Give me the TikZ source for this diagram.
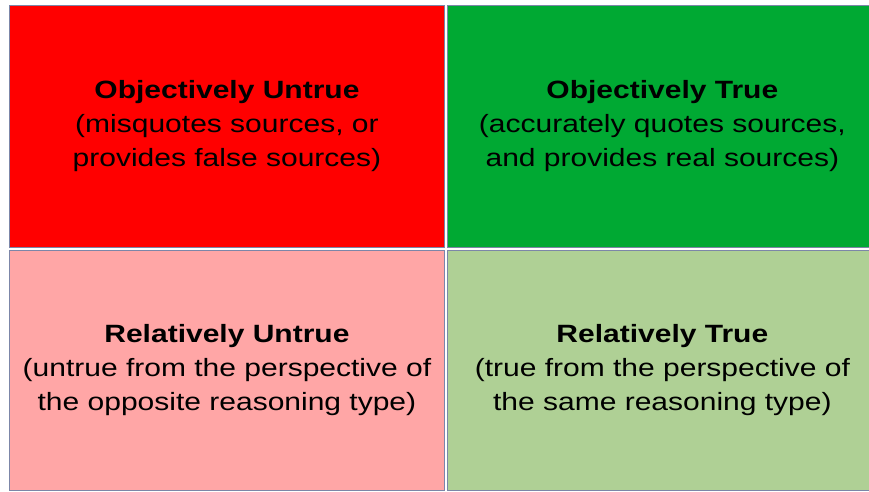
\documentclass[tikz,border=0pt]{standalone}
\usepackage{fontspec}
\setmainfont[FakeStretch=1.2]{Liberation Sans}
\usetikzlibrary{positioning}
\definecolor{untruered}{HTML}{FF0000}
\definecolor{truegreen}{HTML}{00A933}
\definecolor{relred}{HTML}{FFA6A6}
\definecolor{relgreen}{HTML}{AFD095}
\definecolor{cellborder}{HTML}{7C86A8}
\tikzstyle{cell} = [rectangle, minimum height=242pt, inner sep=0pt, text centered, align=center, draw=cellborder, line width=0.9pt, font=\fontsize{25}{34}\selectfont]
\tikzstyle{objuntrue} = [cell, minimum width=435pt, fill=untruered]
\tikzstyle{objtrue} = [cell, minimum width=430pt, fill=truegreen]
\tikzstyle{reluntrue} = [cell, minimum width=435pt, minimum height=240pt, fill=relred]
\tikzstyle{reltrue} = [cell, minimum width=430pt, minimum height=240pt, fill=relgreen]

\begin{document}
\begin{tikzpicture}[x=1pt, y=1pt, node distance=2pt]
\useasboundingbox (0,0) rectangle (869,-491);
\fill[white] (0,0) rectangle (869,-491);

%% the four quadrants
\node (untrue)	[objuntrue, anchor=north west] at (9,-5) {\textbf{Objectively Untrue}\\(misquotes sources, or\\provides false sources)};
\node (true)	[objtrue, right=of untrue] {\textbf{Objectively True}\\(accurately quotes sources,\\and provides real sources)};
\node (relun)	[reluntrue, below=of untrue] {\textbf{Relatively Untrue}\\(untrue from the perspective of\\the opposite reasoning type)};
\node (reltr)	[reltrue, right=of relun] {\textbf{Relatively True}\\(true from the perspective of\\the same reasoning type)};
\end{tikzpicture}
\end{document}
